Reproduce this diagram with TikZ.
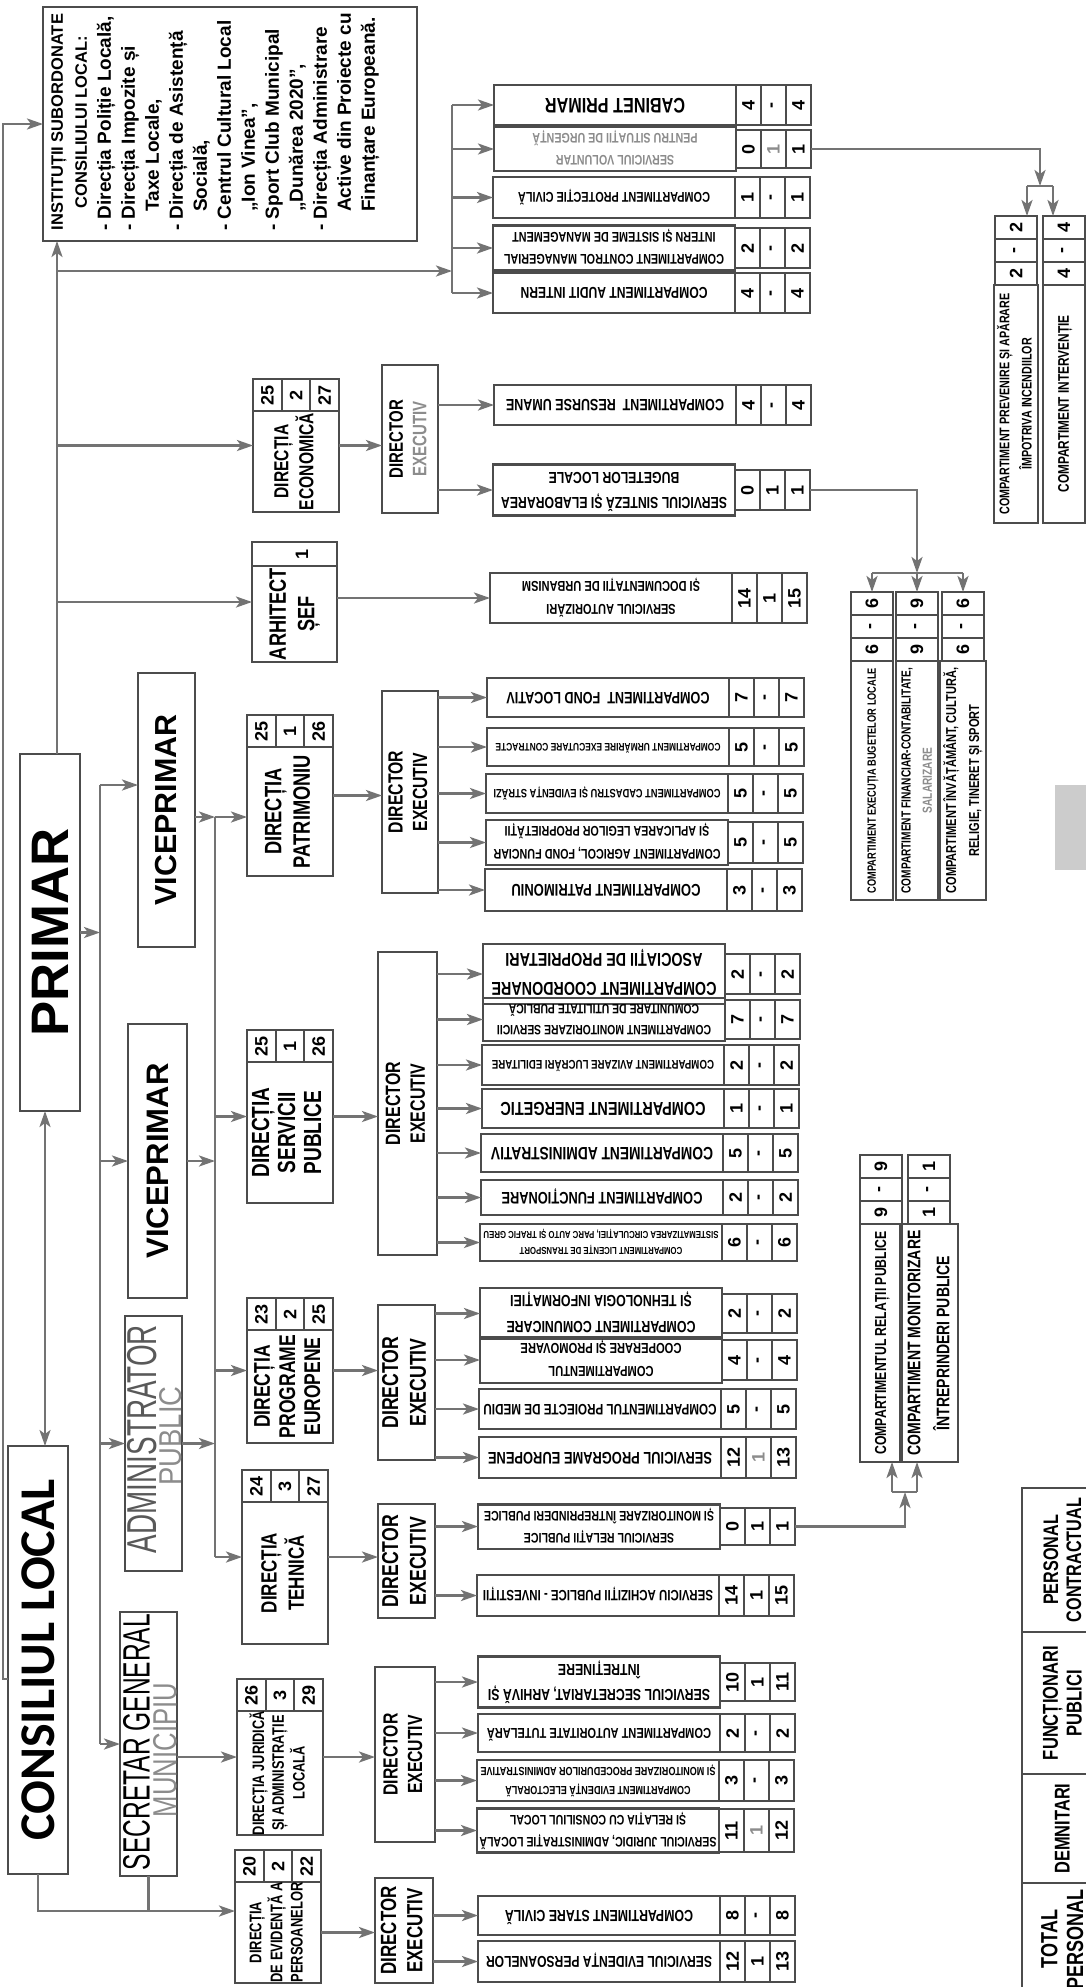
\documentclass[tikz,border=0pt]{standalone}
\usepackage{fontspec}
\setmainfont{Liberation Sans}
\newfontfamily\calfont{Carlito}
\usepackage{graphicx}
\usetikzlibrary{arrows.meta}

\definecolor{linegray}{gray}{0.45}
\definecolor{boxgray}{gray}{0.3}
\definecolor{textgray}{gray}{0.55}

\tikzset{
  cell/.style={draw=boxgray, line width=2.2pt, inner sep=0pt, outer sep=0pt},
  txt/.style={inner sep=0pt, outer sep=0pt},
  conn/.style={draw=linegray, line width=2.4pt},
  arr/.style={conn, -{Stealth[length=16pt, width=11pt, inset=4pt]}},
  arrboth/.style={conn, {Stealth[length=16pt, width=11pt, inset=4pt]}-{Stealth[length=16pt, width=11pt, inset=4pt]}},
}

% condensed bold text fitted to a given width
\newcommand{\fitbox}[3][16]{\resizebox{#2pt}{!}{\scalebox{1}[1.3]{\fontsize{10}{#1}\selectfont\bfseries\begin{tabular}{@{}c@{}}#3\end{tabular}}}}
\newcommand{\cnum}[1]{\rotatebox{90}{\fontsize{18}{18}\selectfont\bfseries #1}}

% compartment: name, left x, top y, bottom y, text width, text, three numbers
\newcommand{\comp}[9]{%
  \pgfmathsetmacro\cbx{#2+121}%
  \pgfmathsetmacro\cby{(#3+#4)/2}%
  \pgfmathsetmacro\cbh{#4-#3}%
  \node[cell, minimum width=242pt, minimum height=\cbh pt] (#1) at (\cbx,\cby) {\rotatebox{180}{\fitbox{#5}{#6}}};
  \node[cell, minimum width=25pt, minimum height=\cbh pt, anchor=west] (#1-1) at (#1.east) {\cnum{#7}};
  \node[cell, minimum width=25pt, minimum height=\cbh pt, anchor=west] (#1-2) at (#1-1.east) {\cnum{#8}};
  \node[cell, minimum width=25pt, minimum height=\cbh pt, anchor=west] (#1-3) at (#1-2.east) {\cnum{#9}};
}
% standing compartment: name, centre x, top y, bottom y, text width, text, three numbers
\newcommand{\rcomp}[9]{%
  \node[cell, minimum width=42pt, minimum height=23pt, anchor=north] (#1-1) at (#2,#3) {\cnum{#7}};
  \node[cell, minimum width=42pt, minimum height=23pt, anchor=north] (#1-2) at (#1-1.south) {\cnum{#8}};
  \node[cell, minimum width=42pt, minimum height=23pt, anchor=north] (#1-3) at (#1-2.south) {\cnum{#9}};
  \pgfmathsetmacro\cbh{#4-#3-69}%
  \node[cell, minimum width=42pt, minimum height=\cbh pt, anchor=north] (#1) at (#1-3.south) {\rotatebox{90}{\fitbox{#5}{#6}}};
}
% direction: name, left x, top y, bottom y, text, three numbers
\newcommand{\dirbox}[8]{%
  \pgfmathsetmacro\cbx{#2+43}%
  \pgfmathsetmacro\cby{(#3+#4)/2}%
  \pgfmathsetmacro\cbh{#4-#3}%
  \node[cell, minimum width=86pt, minimum height=\cbh pt] (#1) at (\cbx,\cby) {};
  \node[cell, minimum width=28.67pt, minimum height=32pt, anchor=north west] (#1-1) at (#1.north west) {\cnum{#6}};
  \node[cell, minimum width=28.67pt, minimum height=32pt, anchor=north west] (#1-2) at (#1-1.north east) {\cnum{#7}};
  \node[cell, minimum width=28.67pt, minimum height=32pt, anchor=north west] (#1-3) at (#1-2.north east) {\cnum{#8}};
  \pgfmathsetmacro\cty{(#3+32+#4)/2}%
  \node[txt] (#1-t) at (\cbx,\cty) {\rotatebox{90}{#5}};
}

\begin{document}
\begin{tikzpicture}[x=1pt, y=-1pt]
\useasboundingbox (0,0) rectangle (1086,1987);
\fill[white] (0,0) rectangle (1086,1987);

% leadership
\node[cell, minimum width=374pt, minimum height=234pt, anchor=north west] (inst) at (43,7) {};
\node[txt] (instT) at (214,122) {\rotatebox{90}{\fontsize{19}{24}\selectfont\bfseries
\begin{tabular}{@{}l@{}}
\multicolumn{1}{@{}c@{}}{\fontsize{16.5}{24}\selectfont INSTITUȚII SUBORDONATE}\\
\multicolumn{1}{@{}c@{}}{\fontsize{16.5}{24}\selectfont CONSILIULUI LOCAL:}\\
- Direcția Poliție Locală,\\
- Direcția Impozite și\\
\quad Taxe Locale,\\
- Direcția de Asistență\\
\quad Socială,\\
- Centrul Cultural Local\\
\quad „Ion Vinea”,\\
- Sport Club Municipal\\
\quad „Dunărea 2020”,\\
- Direcția Administrare\\
\quad Active din Proiecte cu\\
\quad Finanțare Europeană.
\end{tabular}}};

\node[cell, minimum width=60pt, minimum height=357pt] (primar) at (50,932.5) {\rotatebox{90}{\resizebox{208pt}{!}{\bfseries PRIMAR}}};
\node[cell, minimum width=60pt, minimum height=428pt] (consiliu) at (38,1660) {\rotatebox{90}{\resizebox{361pt}{!}{\calfont\bfseries CONSILIUL LOCAL}}};
\node[cell, minimum width=57pt, minimum height=274pt] (vice1) at (166.5,810) {\rotatebox{90}{\resizebox{191pt}{!}{\bfseries VICEPRIMAR}}};
\node[cell, minimum width=59pt, minimum height=274pt] (vice2) at (157.5,1161) {\rotatebox{90}{\resizebox{195pt}{!}{\bfseries VICEPRIMAR}}};
\node[cell, minimum width=57pt, minimum height=255pt] (admin) at (153.5,1443.5) {};
\node[txt] (adminT1) at (142.5,1439) {\rotatebox{90}{\resizebox{228pt}{!}{\scalebox{1}[1.5]{\color{gray!70!black}ADMINISTRATOR}}}};
\node[txt] (adminT2) at (171,1436) {\rotatebox{90}{\resizebox{99pt}{!}{\scalebox{1}[1.15]{\color{textgray}PUBLIC}}}};
\node[cell, minimum width=57pt, minimum height=264pt] (secr) at (148.5,1744) {};
\node[txt] (secrT1) at (136.5,1742) {\rotatebox{90}{\resizebox{256pt}{!}{\scalebox{1}[1.55]{SECRETAR GENERAL}}}};
\node[txt] (secrT2) at (165,1750) {\rotatebox{90}{\resizebox{134pt}{!}{\scalebox{1}[1.3]{\color{textgray}MUNICIPIU}}}};

% directions
\dirbox{dEco}{253}{379}{512}{\fitbox[12]{97}{DIRECȚIA\\ECONOMICĂ}}{25}{2}{27}
\dirbox{dPat}{247}{715}{876}{\fitbox[12]{113}{DIRECȚIA\\PATRIMONIU}}{25}{1}{26}
\dirbox{dSer}{247}{1030}{1203}{\fitbox[10.5]{90}{DIRECȚIA\\SERVICII\\PUBLICE}}{25}{1}{26}
\dirbox{dPro}{247}{1298}{1443}{\fitbox[11]{103}{DIRECȚIA\\PROGRAME\\EUROPENE}}{23}{2}{25}
\dirbox{dTeh}{242}{1470}{1644}{\fitbox[12]{80}{DIRECȚIA\\TEHNICĂ}}{24}{3}{27}
\dirbox{dJur}{237}{1679}{1835}{\fitbox[12]{124}{DIRECȚIA JURIDICĂ\\ȘI ADMINISTRAȚIE\\LOCALĂ}}{26}{3}{29}
\dirbox{dEvi}{235}{1850}{1983}{\fitbox[12]{100}{DIRECȚIA\\DE EVIDENȚĂ A\\PERSOANELOR}}{20}{2}{22}

\node[cell, minimum width=85pt, minimum height=120pt, anchor=north west] (arh) at (252,542) {};
\node[cell, minimum width=85pt, minimum height=24pt, anchor=north west] (arhN) at (arh.north west) {};
\node[txt] (arhN1) at (302,554) {\cnum{1}};
\node[txt] (arhT) at (294.5,614) {\rotatebox{90}{\fitbox[12]{92}{ARHITECT\\ȘEF}}};

% executive directors
\node[cell, minimum width=56pt, minimum height=148pt] (exEco) at (410,439) {\rotatebox{90}{\fitbox[12]{78}{DIRECTOR\\\color{textgray}EXECUTIV}}};
\node[cell, minimum width=56pt, minimum height=202pt] (exPat) at (410,792) {\rotatebox{90}{\fitbox[12]{82}{DIRECTOR\\EXECUTIV}}};
\node[cell, minimum width=59pt, minimum height=303pt] (exSer) at (407.5,1103.5) {\rotatebox{90}{\fitbox[12]{83}{DIRECTOR\\EXECUTIV}}};
\node[cell, minimum width=57pt, minimum height=155pt] (exPro) at (406.5,1382.5) {\rotatebox{90}{\fitbox[12]{92}{DIRECTOR\\EXECUTIV}}};
\node[cell, minimum width=57pt, minimum height=114pt] (exTeh) at (406.5,1561) {\rotatebox{90}{\fitbox[12]{92}{DIRECTOR\\EXECUTIV}}};
\node[cell, minimum width=60pt, minimum height=175pt] (exJur) at (405,1754.5) {\rotatebox{90}{\fitbox[12]{82}{DIRECTOR\\EXECUTIV}}};
\node[cell, minimum width=58pt, minimum height=105pt] (exEvi) at (404,1930.5) {\rotatebox{90}{\fitbox[12]{88}{DIRECTOR\\EXECUTIV}}};

% compartments under the mayor
\comp{cab}{494}{85}{125}{140}{CABINET PRIMAR}{4}{-}{4}
\comp{vol}{494}{130}{168}{165}{\color{textgray}SERVICIUL VOLUNTAR\\\color{textgray}PENTRU SITUAȚII DE URGENȚĂ}{0}{\textcolor{textgray}{1}}{1}
\comp{prot}{493}{177}{218}{192}{COMPARTIMENT PROTECȚIE CIVILĂ}{1}{-}{1}
\comp{ctrl}{493}{228}{268}{220}{COMPARTIMENT CONTROL MANAGERIAL\\INTERN ȘI SISTEME DE MANAGEMENT}{2}{-}{2}
\comp{aud}{493}{273}{313}{187}{COMPARTIMENT AUDIT INTERN}{4}{-}{4}
% economica and arhitect
\comp{res}{494}{385}{425}{218}{COMPARTIMENT\ \ RESURSE UMANE}{4}{-}{4}
\comp{sint}{493}{470}{510}{226}{SERVICIUL SINTEZĂ ȘI ELABORAREA\\BUGETELOR LOCALE}{0}{1}{1}
\comp{aut}{490}{573}{623}{178}{SERVICIUL AUTORIZĂRI\\ȘI DOCUMENTAȚII DE URBANISM}{14}{1}{15}
% patrimoniu
\comp{fond}{487}{678}{717}{203}{COMPARTIMENT\ \ FOND LOCATIV}{7}{-}{7}
\comp{urm}{487}{728}{766}{225}{COMPARTIMENT URMĂRIRE EXECUTARE CONTRACTE}{5}{-}{5}
\comp{cad}{486}{774}{813}{227}{COMPARTIMENT CADASTRU ȘI EVIDENȚA STRĂZI}{5}{-}{5}
\comp{agr}{486}{822}{863}{227}{COMPARTIMENT AGRICOL, FOND FUNCIAR\\ȘI APLICAREA LEGILOR PROPRIETĂȚII}{5}{-}{5}
\comp{patc}{485}{869}{911}{189}{COMPARTIMENT PATRIMONIU}{3}{-}{3}
% servicii publice
\comp{coord}{483}{954}{994}{225}{COMPARTIMENT COORDONARE\\ASOCIAȚII DE PROPRIETARI}{2}{-}{2}
\comp{mon}{483}{1000}{1039}{214}{COMPARTIMENT MONITORIZARE SERVICII\\COMUNITARE DE UTILITATE PUBLICĂ}{7}{-}{7}
\comp{aviz}{482}{1045}{1085}{222}{COMPARTIMENT AVIZARE LUCRĂRI EDILITARE}{2}{-}{2}
\comp{ener}{482}{1089}{1128}{205}{COMPARTIMENT ENERGETIC}{1}{-}{1}
\comp{adm}{481}{1134}{1172}{222}{COMPARTIMENT ADMINISTRATIV}{5}{-}{5}
\comp{func}{481}{1180}{1215}{201}{COMPARTIMENT FUNCȚIONARE}{2}{-}{2}
\comp{lic}{480}{1224}{1261}{235}{COMPARTIMENT LICENȚE DE TRANSPORT\\SISTEMATIZAREA CIRCULAȚIEI, PARC AUTO ȘI TRAFIC GREU}{6}{-}{6}
% programe europene
\comp{com}{480}{1294}{1333}{189}{COMPARTIMENT COMUNICARE\\ȘI TEHNOLOGIA INFORMAȚIEI}{2}{-}{2}
\comp{coop}{480}{1340}{1380}{161}{COMPARTIMENTUL\\COOPERARE ȘI PROMOVARE}{4}{-}{4}
\comp{med}{479}{1389}{1429}{233}{COMPARTIMENTUL PROIECTE DE MEDIU}{5}{-}{5}
\comp{prog}{479}{1437}{1478}{224}{SERVICIUL PROGRAME EUROPENE}{12}{\textcolor{textgray}{1}}{13}
% tehnica
\comp{rel}{478}{1508}{1545}{230}{SERVICIUL RELAȚII PUBLICE\\ȘI MONITORIZARE ÎNTREPRINDERI PUBLICE}{0}{1}{1}
\comp{ach}{477}{1575}{1616}{230}{SERVICIU ACHIZIȚII PUBLICE - INVESTIȚII}{14}{1}{15}
% juridica
\comp{secs}{478}{1663}{1701}{222}{SERVICIUL SECRETARIAT, ARHIVĂ ȘI\\ÎNTREȚINERE}{10}{1}{11}
\comp{tut}{478}{1714}{1752}{224}{COMPARTIMENT AUTORITATE TUTELARĂ}{2}{-}{2}
\comp{elec}{477}{1760}{1801}{235}{COMPARTIMENT EVIDENȚĂ ELECTORALĂ\\ȘI MONITORIZARE PROCEDURILOR ADMINISTRATIVE}{3}{-}{3}
\comp{jur}{477}{1809}{1852}{237}{SERVICIUL JURIDIC, ADMINISTRAȚIE LOCALĂ\\ȘI RELAȚIA CU CONSILIUL LOCAL}{11}{\textcolor{textgray}{1}}{12}
% evidenta persoanelor
\comp{stare}{478}{1896}{1935}{188}{COMPARTIMENT STARE CIVILĂ}{8}{-}{8}
\comp{evp}{478}{1941}{1982}{226}{SERVICIUL EVIDENȚA PERSOANELOR}{12}{1}{13}

% standing compartments
\rcomp{prev}{1016}{216}{523}{221}{COMPARTIMENT PREVENIRE ȘI APĂRARE\\ÎMPOTRIVA INCENDIILOR}{2}{-}{2}
\rcomp{intv}{1064}{216}{523}{177}{COMPARTIMENT INTERVENȚIE}{4}{-}{4}
\rcomp{exb}{872}{592}{900}{225}{COMPARTIMENT EXECUȚIA BUGETELOR LOCALE}{6}{-}{6}
\rcomp{fin}{917}{592}{900}{226}{COMPARTIMENT FINANCIAR-CONTABILITATE,\\\color{textgray}SALARIZARE}{9}{-}{9}
\rcomp{inv}{963}{592}{900}{226}{COMPARTIMENT ÎNVĂȚĂMÂNT, CULTURĂ,\\RELIGIE, TINERET ȘI SPORT}{6}{-}{6}
\rcomp{relc}{881}{1155}{1462}{223}{COMPARTIMENTUL RELAȚII PUBLICE}{9}{-}{9}
\rcomp{monc}{929}{1155}{1462}{225}{COMPARTIMENT MONITORIZARE\\ÎNTREPRINDERI PUBLICE}{1}{-}{1}

\fill[gray!40] (1055,785) rectangle (1086,870);

% legend
\node[cell, minimum width=86pt, minimum height=144pt, anchor=north west] (legPC) at (1022,1488) {\rotatebox{90}{\fitbox[11]{124}{PERSONAL\\CONTRACTUAL}}};
\node[cell, minimum width=86pt, minimum height=142pt, anchor=north west] (legFP) at (legPC.south west) {\rotatebox{90}{\fitbox[11]{114}{FUNCȚIONARI\\PUBLICI}}};
\node[cell, minimum width=86pt, minimum height=109pt, anchor=north west] (legD) at (legFP.south west) {\rotatebox{90}{\fitbox[11]{90}{DEMNITARI}}};
\node[cell, minimum width=86pt, minimum height=112pt, anchor=north west] (legT) at (legD.south west) {\rotatebox{90}{\fitbox[11]{100}{TOTAL\\PERSONAL}}};

% bus lines
\coordinate (pb) at (57,0);
\coordinate (pc) at (45,0);
\coordinate (topbus) at (452,0);
\coordinate (busA) at (100,0);
\coordinate (busB) at (215,0);
\coordinate (farL) at (3,1679);
\coordinate (br1) at (57,271);
\coordinate (jv1) at (100,785);
\coordinate (jv2) at (215,817);
\coordinate (ce) at (38,1911);

% local council and subordinate institutions
\draw[arr] (consiliu.west |- farL) -- (farL) |- (inst.west);
\draw[arrboth] (pc |- primar.south) -- (pc |- consiliu.north);
\draw[arr] (consiliu.south) -- (ce) -- (ce -| dEvi.west);
\draw[conn] (secr.south) -- (secr.south |- ce);

% mayor, upwards
\draw[arr] (pb |- primar.north) -- (pb |- inst.south);
\draw[arr] (br1) -- (br1 -| topbus);
\draw[arr] (pb |- dEco.west) -- (dEco.west);
\draw[arr] (pb |- arh.west) -- (arh.west);
\draw[conn] (topbus |- cab.west) -- (topbus |- aud.west);
\foreach \nm in {cab,vol,prot,ctrl,aud}
  \draw[arr] (topbus |- \nm.west) -- (\nm.west);

% mayor, downwards
\draw[arr] (primar.east) -- (primar.east -| busA);
\draw[conn] (jv1) -- (busA |- secr.west);
\draw[arr] (jv1) -- (jv1 -| vice1.west);
\draw[arr] (busA |- vice2.west) -- (vice2.west);
\draw[arr] (busA |- admin.west) -- (admin.west);
\draw[arr] (busA |- secr.west) -- (secr.west);

\draw[conn] (jv2) -- (busB |- dTeh.west);
\draw[arr] (jv2 -| vice1.east) -- (jv2);
\draw[arr] (vice2.east) -- (vice2.east -| busB);
\draw[arr] (admin.east) -- (admin.east -| busB);
\draw[arr] (jv2) -- (jv2 -| dPat.west);
\draw[arr] (busB |- dSer.west) -- (dSer.west);
\draw[arr] (busB |- dPro.west) -- (dPro.west);
\draw[arr] (busB |- dTeh.west) -- (dTeh.west);
\draw[arr] (secr.east |- dJur.west) -- (dJur.west);

% directions to executive directors
\draw[arr] (dEco.east) -- (dEco.east -| exEco.west);
\draw[arr] (dPat.east) -- (dPat.east -| exPat.west);
\draw[arr] (dSer.east) -- (dSer.east -| exSer.west);
\draw[arr] (dPro.east) -- (dPro.east -| exPro.west);
\draw[arr] (dTeh.east) -- (dTeh.east -| exTeh.west);
\draw[arr] (dJur.east) -- (dJur.east -| exJur.west);
\draw[arr] (dEvi.east |- dEvi-t) -- (exEvi.west |- dEvi-t);

% executive directors to compartments
\foreach \nm in {res,sint}
  \draw[arr] (exEco.east |- \nm.west) -- (\nm.west);
\draw[arr] (arh.east |- aut.west) -- (aut.west);
\foreach \nm in {fond,urm,cad,agr,patc}
  \draw[arr] (exPat.east |- \nm.west) -- (\nm.west);
\foreach \nm in {coord,mon,aviz,ener,adm,func,lic}
  \draw[arr] (exSer.east |- \nm.west) -- (\nm.west);
\foreach \nm in {com,coop,med,prog}
  \draw[arr] (exPro.east |- \nm.west) -- (\nm.west);
\foreach \nm in {rel,ach}
  \draw[arr] (exTeh.east |- \nm.west) -- (\nm.west);
\foreach \nm in {secs,tut,elec,jur}
  \draw[arr] (exJur.east |- \nm.west) -- (\nm.west);
\foreach \nm in {stare,evp}
  \draw[arr] (exEvi.east |- \nm.west) -- (\nm.west);

% splits to standing compartments
\coordinate (vs) at (1040,186);
\coordinate (vsl) at (1027,186);
\coordinate (vsr) at (1053,186);
\draw[arr] (vol-3.east) -| (vs);
\draw[conn] (vsl) -- (vsr);
\draw[arr] (vsl) -- (vsl |- prev-1.north);
\draw[arr] (vsr) -- (vsr |- intv-1.north);

\coordinate (ss) at (917,573);
\draw[arr] (sint-3.east) -| (ss);
\draw[conn] (ss -| exb-1.north) -- (ss -| inv-1.north);
\foreach \nm in {exb,fin,inv}
  \draw[arr] (ss -| \nm-1.north) -- (\nm-1.north);

\coordinate (rs) at (905,1492);
\coordinate (rsl) at (892,1492);
\coordinate (rsr) at (917,1492);
\draw[arr] (rel-3.east) -| (rs);
\draw[conn] (rsl) -- (rsr);
\draw[arr] (rsl) -- (rsl |- relc.south);
\draw[arr] (rsr) -- (rsr |- monc.south);
\end{tikzpicture}
\end{document}
